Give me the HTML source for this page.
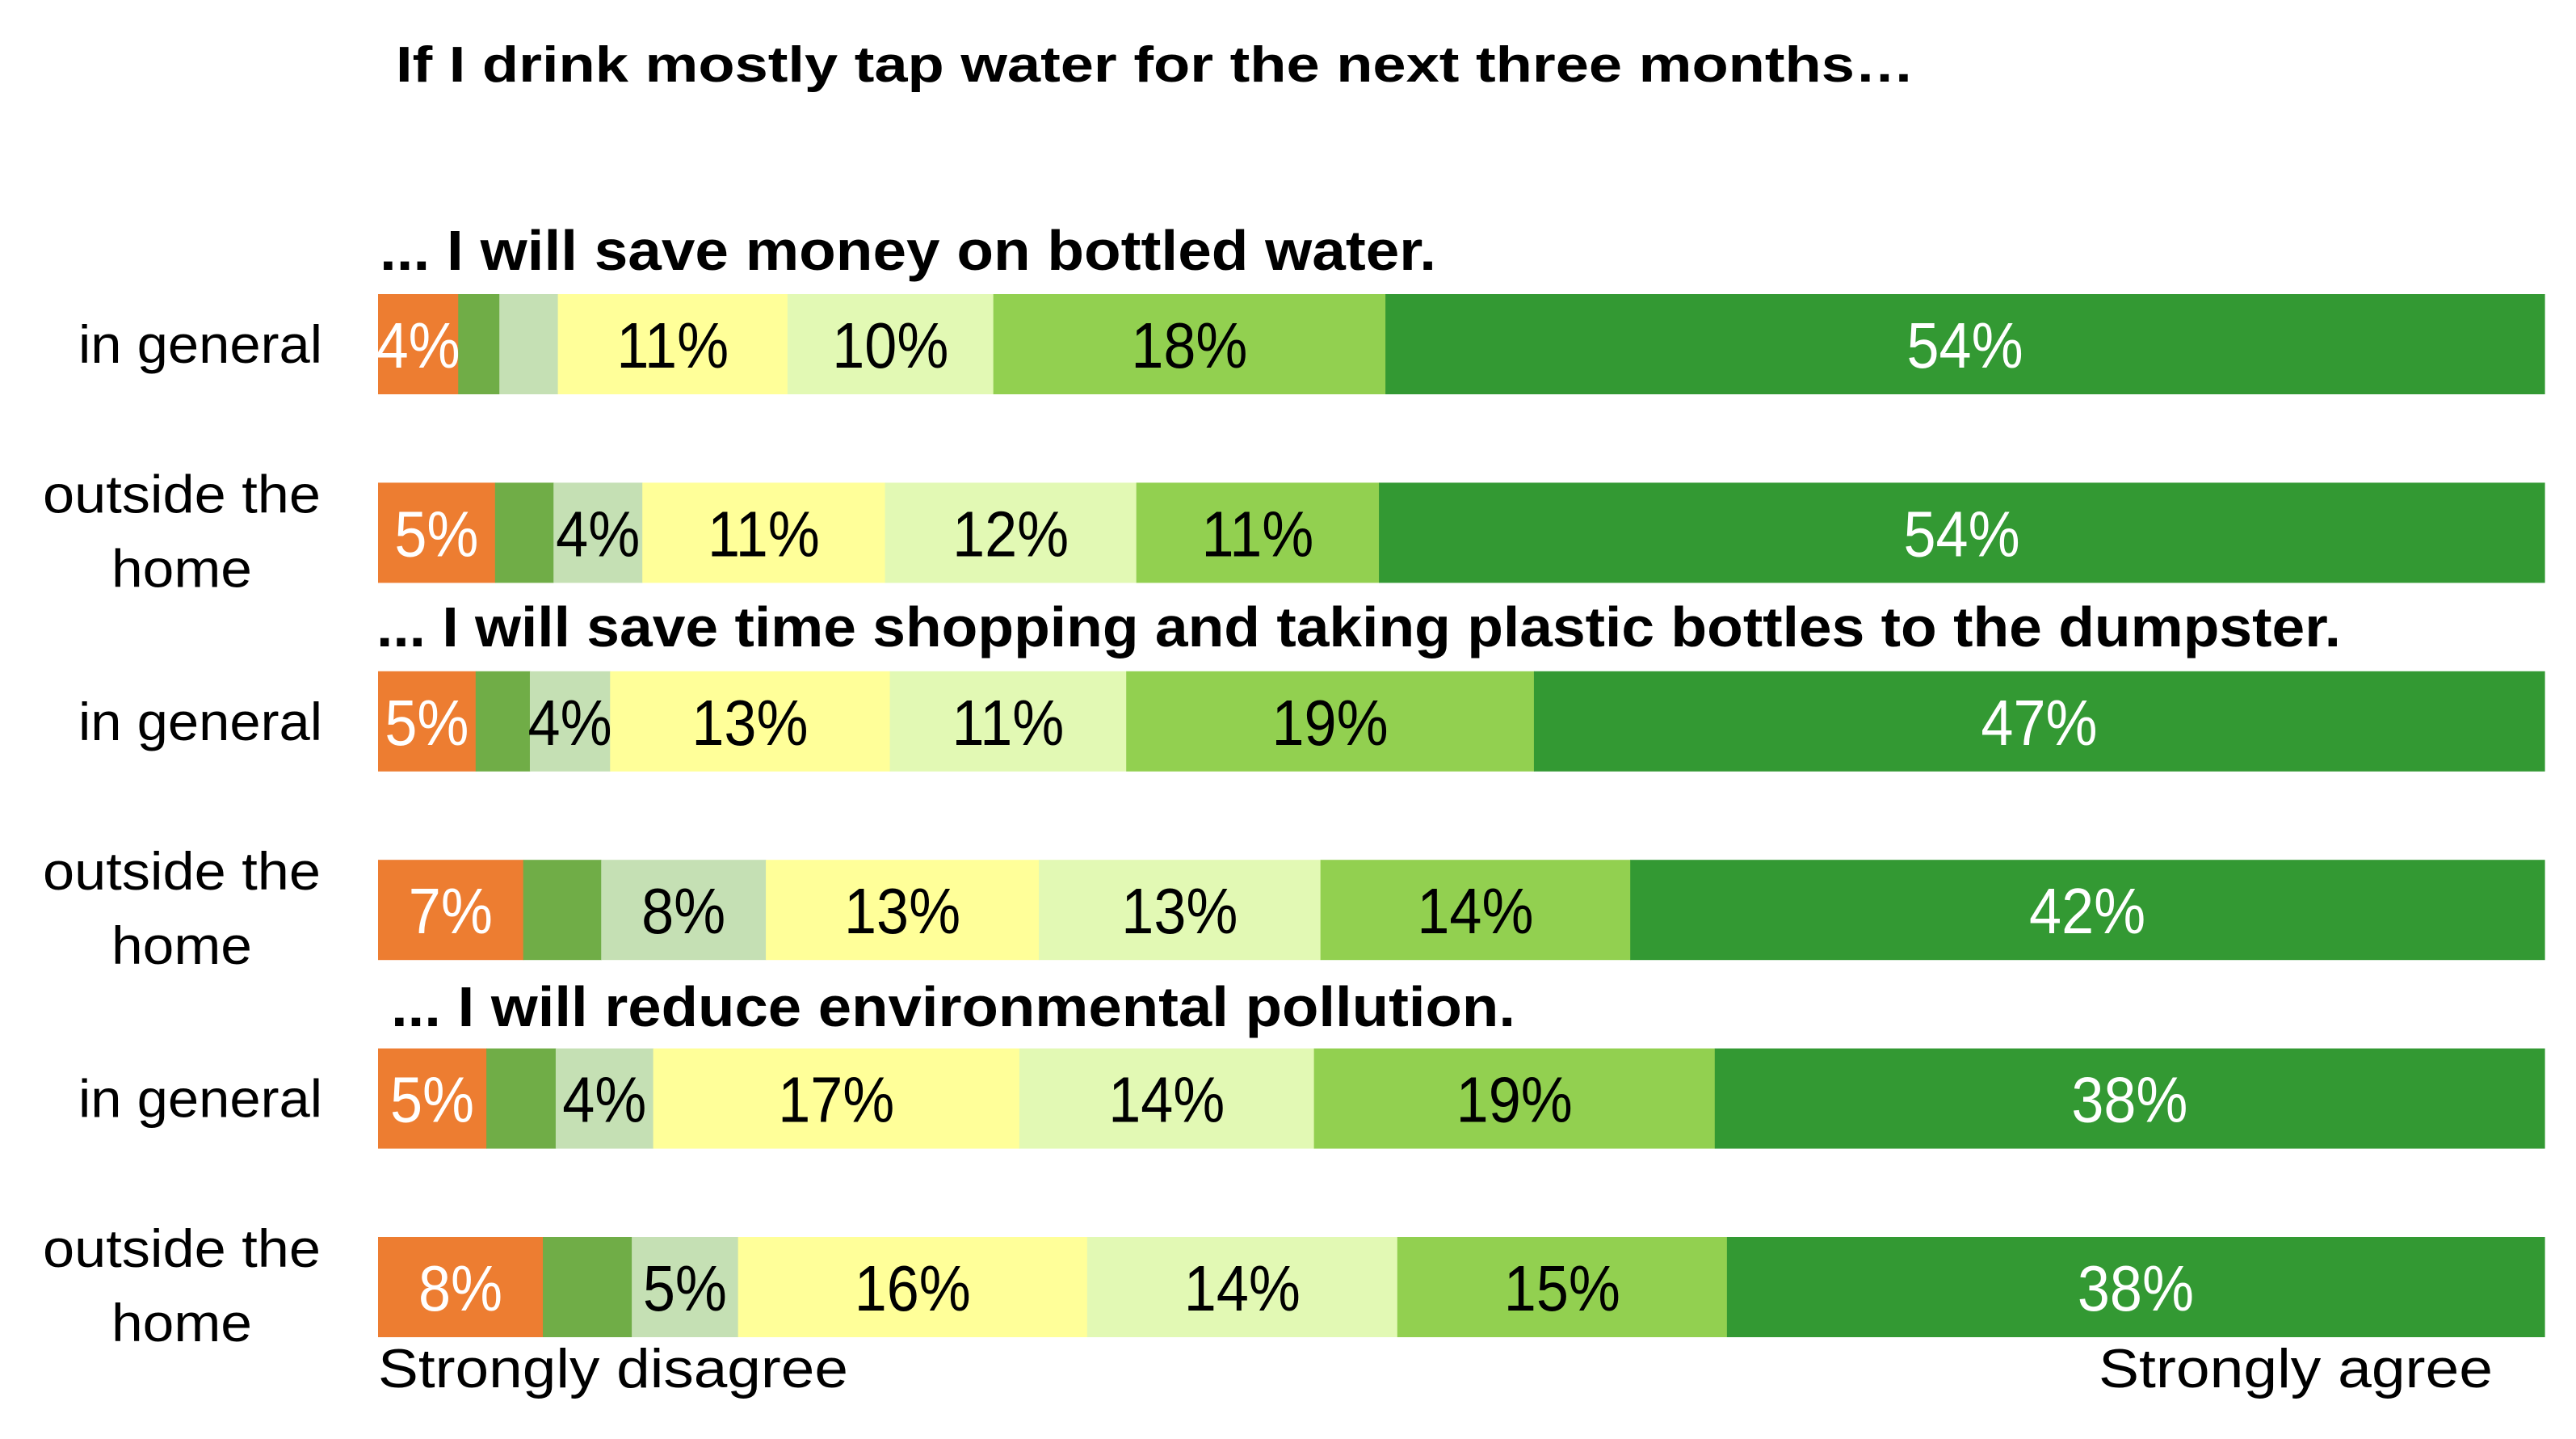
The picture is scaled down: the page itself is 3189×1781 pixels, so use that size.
<!DOCTYPE html>
<html><head><meta charset="utf-8"><style>
html,body{margin:0;padding:0;background:#fff;}
svg{display:block;font-family:"Liberation Sans",sans-serif;}
</style></head><body>
<svg id="chart" width="3189" height="1781" viewBox="0 0 3189 1781" xmlns="http://www.w3.org/2000/svg">
<rect width="3189" height="1781" fill="#fff"/>
<text x="490" y="101" font-size="62" font-weight="bold" textLength="1880" lengthAdjust="spacingAndGlyphs">If I drink mostly tap water for the next three months…</text>
<text x="470" y="334" font-size="70" font-weight="bold" textLength="1308" lengthAdjust="spacingAndGlyphs">... I will save money on bottled water.</text>
<text x="466" y="800" font-size="70" font-weight="bold" textLength="2432" lengthAdjust="spacingAndGlyphs">... I will save time shopping and taking plastic bottles to the dumpster.</text>
<text x="484" y="1270" font-size="70" font-weight="bold" textLength="1392" lengthAdjust="spacingAndGlyphs">... I will reduce environmental pollution.</text>
<g id="bars"></g>
<text x="468" y="1717" font-size="68" textLength="582" lengthAdjust="spacingAndGlyphs">Strongly disagree</text>
<text x="2598" y="1717" font-size="68" textLength="488" lengthAdjust="spacingAndGlyphs">Strongly agree</text>
</svg>
<script>
const rowLabels = [["in general"],["outside the","home"],["in general"],["outside the","home"],["in general"],["outside the","home"]];
const seriesNames = ["strongly-disagree","disagree","somewhat-disagree","neutral","somewhat-agree","agree","strongly-agree"];
const colors = ["#ED7D31","#70AD47","#C5E0B4","#FFFF99","#E2F9B4","#92D050","#339933"];
const textColors = ["#fff","#000","#000","#000","#000","#000","#fff"];
const row1 = [3.7,1.9,2.7,10.6,9.5,18.1,53.5];
const row2 = [5.4,2.7,4.1,11.2,11.6,11.2,53.8];
const row3 = [4.5,2.5,3.7,12.9,10.9,18.8,46.6];
const row4 = [6.7,3.6,7.6,12.6,13.0,14.3,42.2];
const row5 = [5.0,3.2,4.5,16.9,13.6,18.5,38.3];
const row6 = [7.6,4.1,4.9,16.1,14.3,15.2,37.7];
const labels1 = ["4%","","","11%","10%","18%","54%"];
const labels2 = ["5%","","4%","11%","12%","11%","54%"];
const labels3 = ["5%","","4%","13%","11%","19%","47%"];
const labels4 = ["7%","","8%","13%","13%","14%","42%"];
const labels5 = ["5%","","4%","17%","14%","19%","38%"];
const labels6 = ["8%","","5%","16%","14%","15%","38%"];
const rows = [row1,row2,row3,row4,row5,row6];
const labels = [labels1,labels2,labels3,labels4,labels5,labels6];

const NS = "http://www.w3.org/2000/svg";
const X0 = 468, X1 = 3150, TOP0 = 364, STEP = 233.4, BH = 124;
const g = document.getElementById('bars');
function yTop(i){ return TOP0 + i*STEP; }
rows.forEach((vals, i) => {
  const total = vals.reduce((a,b)=>a+b,0);
  const xs = v => X0 + (X1 - X0) * v / total;
  let cum = 0;
  const yt = yTop(i), cy = yt + BH/2;
  vals.forEach((v, j) => {
    const x = xs(cum), w = xs(cum + v) - x;
    const r = document.createElementNS(NS,'rect');
    
    
    r.setAttribute('x', x); r.setAttribute('y', yt);
    r.setAttribute('width', w + 0.6); r.setAttribute('height', BH);
    r.setAttribute('fill', colors[j]);
    g.appendChild(r);
    if (labels[i][j]) {
      const t = document.createElementNS(NS,'text');
      
      
      t.setAttribute('x', x + w/2); t.setAttribute('y', cy + 29);
      t.setAttribute('text-anchor','middle'); t.setAttribute('font-size','80');
      t.setAttribute('fill', textColors[j]);
      t.textContent = labels[i][j];
      g.appendChild(t);
      const L = t.getComputedTextLength();
      if (L > 0) {
        t.setAttribute('textLength', (L * 0.9).toFixed(1));
        t.setAttribute('lengthAdjust', 'spacingAndGlyphs');
      }
    }
    cum += v;
  });
  const lab = rowLabels[i];
  if (lab.length === 1) {
    const t = document.createElementNS(NS,'text');
    
    
    t.setAttribute('x', 399); t.setAttribute('y', cy + 23);
    t.setAttribute('text-anchor','end'); t.setAttribute('font-size','66');
    t.setAttribute('textLength','302'); t.setAttribute('lengthAdjust','spacingAndGlyphs');
    t.textContent = lab[0];
    g.appendChild(t);
  } else {
    lab.forEach((s, k) => {
      const t = document.createElementNS(NS,'text');
      
      
      t.setAttribute('x', 225); t.setAttribute('y', cy - 25 + k*92);
      t.setAttribute('text-anchor','middle'); t.setAttribute('font-size','66');
      t.setAttribute('textLength', k===0 ? '344' : '174'); t.setAttribute('lengthAdjust','spacingAndGlyphs');
      t.textContent = s;
      g.appendChild(t);
    });
  }
});
</script>
</body></html>
